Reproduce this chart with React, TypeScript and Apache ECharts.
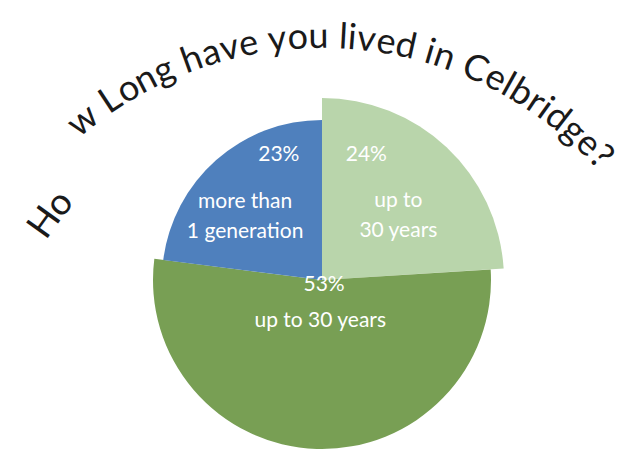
import React, { useEffect, useRef } from 'react';
import * as echarts from 'echarts';

// ---- data ----
const sliceNames = ['up to\n30 years', 'up to 30 years', 'more than\n1 generation'];
const sliceValues = [24, 53, 23];
const sliceColors = ['#B9D5AB', '#789F54', '#4F80BD'];
const titleHead = 'Ho';
const titleTail = 'w Long have you lived in Celbridge?';

// ---- layout / style ----
const W = 626;
const H = 450;
const FONT = 'Lato, "Open Sans", sans-serif';
const CX = 322;
const CY = 280;
const RADII = [182, 169, 160];
const NAME_SHIFT = [[12, 2], [1, -49], [-22, -3]];
const PCT_SHIFT = [[-20, -59], [5, -91], [19, -57]];
const ARC_CX = 322;
const ARC_CY = 421;

function arcText(text: string, fontSize: number, r: number, a0: number, a1: number, color: string) {
  const canvas = document.createElement('canvas');
  const ctx = canvas.getContext('2d') as CanvasRenderingContext2D;
  ctx.font = `${fontSize}px ${FONT}`;
  const chars = Array.from(text);
  const centers: number[] = [];
  chars.forEach((c, i) => {
    const before = ctx.measureText(chars.slice(0, i).join('')).width;
    const w = ctx.measureText(c).width;
    centers.push(before + w / 2);
  });
  const s0 = centers[0];
  const s1 = centers[centers.length - 1];
  const out: any[] = [];
  chars.forEach((c, i) => {
    if (c === ' ') return;
    const t = s1 === s0 ? 0 : (centers[i] - s0) / (s1 - s0);
    const ang = ((a0 + (a1 - a0) * t) * Math.PI) / 180;
    out.push({
      type: 'text',
      silent: true,
      x: ARC_CX + r * Math.cos(ang),
      y: ARC_CY - r * Math.sin(ang),
      rotation: ang - Math.PI / 2,
      style: {
        text: c,
        fill: color,
        fontSize,
        fontFamily: FONT,
        align: 'center',
        verticalAlign: 'middle',
      },
    });
  });
  return out;
}

export default function App() {
  const ref = useRef<HTMLDivElement>(null);
  useEffect(() => {
    if (!ref.current) return;
    const chart = echarts.init(ref.current, undefined, { renderer: 'svg' });

    const sliceSeries = sliceValues.map((_, k) => ({
      type: 'pie',
      silent: true,
      radius: RADII[k],
      center: [CX, CY],
      startAngle: 90,
      clockwise: true,
      avoidLabelOverlap: false,
      itemStyle: { borderWidth: 0 },
      label: {
        show: true,
        position: 'inside',
        color: '#ffffff',
        fontSize: 21,
        fontFamily: FONT,
        lineHeight: 30,
        textBorderWidth: 0,
        formatter: '{b}',
      },
      labelLine: { show: false },
      labelLayout: (p: any) => ({ dx: NAME_SHIFT[p.dataIndex][0], dy: NAME_SHIFT[p.dataIndex][1] }),
      data: sliceValues.map((v, i) => ({
        value: v,
        name: sliceNames[i],
        itemStyle: { color: i === k ? sliceColors[i] : 'rgba(0,0,0,0)' },
        label: { show: i === k },
      })),
    }));

    const pctSeries = {
      type: 'pie',
      silent: true,
      radius: RADII[0],
      center: [CX, CY],
      startAngle: 90,
      clockwise: true,
      avoidLabelOverlap: false,
      itemStyle: { color: 'rgba(0,0,0,0)', borderWidth: 0 },
      label: {
        show: true,
        position: 'inside',
        color: '#ffffff',
        fontSize: 21,
        fontFamily: FONT,
        textBorderWidth: 0,
        formatter: (p: any) => `${Math.round(p.percent)}%`,
      },
      labelLine: { show: false },
      labelLayout: (p: any) => ({ dx: PCT_SHIFT[p.dataIndex][0], dy: PCT_SHIFT[p.dataIndex][1] }),
      data: sliceValues.map((v, i) => ({ value: v, name: sliceNames[i] })),
    };

    const graphic = [
      ...arcText(titleHead, 37, 344, 144.4, 140.4, '#1a1a1a'),
      ...arcText(titleTail, 36, 387, 128.5, 43.4, '#1a1a1a'),
    ];

    chart.setOption({
      animation: false,
      backgroundColor: '#ffffff',
      series: [...sliceSeries, pctSeries],
      graphic,
    } as any);
    return () => chart.dispose();
  }, []);
  return <div ref={ref} style={{ position: 'absolute', left: 0, top: 0, width: W, height: H }} />;
}
